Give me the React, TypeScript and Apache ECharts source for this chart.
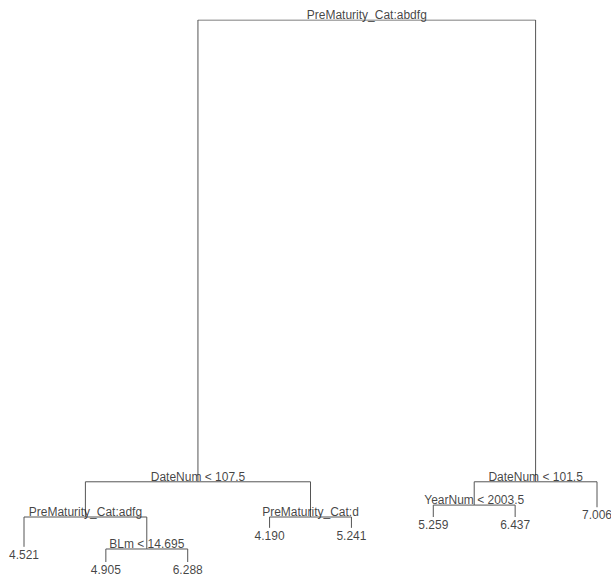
import React, { useEffect, useRef } from 'react';
import * as echarts from 'echarts';

// rpart tree: nodes in pre-order, parent index, and node height (deviance scale, root = 100)
const nodeLabels = [
  'PreMaturity_Cat:abdfg',
  'DateNum < 107.5',
  'PreMaturity_Cat:adfg',
  '4.521',
  'BLm < 14.695',
  '4.905',
  '6.288',
  'PreMaturity_Cat:d',
  '4.190',
  '5.241',
  'DateNum < 101.5',
  'YearNum < 2003.5',
  '5.259',
  '6.437',
  '7.006'
];
const nodeParents = [-1, 0, 1, 2, 2, 4, 4, 1, 7, 7, 0, 10, 11, 11, 10];
const nodeHeights = [100, 14.8, 8.3, 2.8, 2.4, 0, 0, 8.3, 6.3, 6.3, 14.8, 10.5, 8.3, 8.3, 10.1];

function layoutTree() {
  const n = nodeLabels.length;
  const children: number[][] = nodeLabels.map(() => []);
  nodeParents.forEach((p, i) => {
    if (p >= 0) children[p].push(i);
  });
  const xs = new Array(n).fill(0);
  let leaf = 0;
  const place = (i: number): number => {
    if (children[i].length === 0) {
      leaf += 1;
      xs[i] = leaf;
    } else {
      const cx = children[i].map(place);
      xs[i] = (cx[0] + cx[cx.length - 1]) / 2;
    }
    return xs[i];
  };
  place(0);
  return { xs, children, leafCount: leaf };
}

const App: React.FC = () => {
  const chartRef = useRef<HTMLDivElement>(null);

  useEffect(() => {
    if (!chartRef.current) return;
    const chart = echarts.init(chartRef.current, undefined, { renderer: 'svg' });
    const { xs, children, leafCount } = layoutTree();

    const edges = nodeParents
      .map((p, i) => (p < 0 ? null : {
        coords: [
          [xs[p], nodeHeights[p]],
          [xs[i], nodeHeights[p]],
          [xs[i], nodeHeights[i]]
        ]
      }))
      .filter(Boolean);

    const points = nodeLabels.map((name, i) => ({
      name,
      value: [xs[i], nodeHeights[i]],
      leaf: children[i].length === 0
    }));
    const splitPoints = points.filter((d) => !d.leaf).map(({ name, value }) => ({ name, value }));
    const leafPoints = points.filter((d) => d.leaf).map(({ name, value }) => ({ name, value }));

    const font = {
      fontFamily: 'Liberation Sans, Arial, sans-serif',
      fontSize: 12,
      color: '#111'
    };

    chart.setOption({
      animation: false,
      backgroundColor: '#ffffff',
      grid: { left: 24, right: 14, top: 20, bottom: 17 },
      xAxis: { type: 'value', min: 1, max: leafCount, show: false },
      yAxis: { type: 'value', min: 0, max: 100, show: false },
      series: [
        {
          type: 'lines',
          coordinateSystem: 'cartesian2d',
          polyline: true,
          silent: true,
          lineStyle: { color: '#555', width: 1, opacity: 1 },
          data: edges
        },
        {
          type: 'scatter',
          symbolSize: 0,
          silent: true,
          data: splitPoints,
          label: {
            show: true,
            position: 'top',
            distance: 0,
            offset: [0, 1],
            formatter: '{b}',
            ...font
          }
        },
        {
          type: 'scatter',
          symbolSize: 0,
          silent: true,
          data: leafPoints,
          label: {
            show: true,
            position: 'bottom',
            distance: 2,
            formatter: '{b}',
            ...font
          }
        }
      ]
    });

    return () => {
      chart.dispose();
    };
  }, []);

  return (
    <div
      ref={chartRef}
      style={{ position: 'fixed', left: 0, top: 0, width: 611, height: 579 }}
    />
  );
};

export default App;
